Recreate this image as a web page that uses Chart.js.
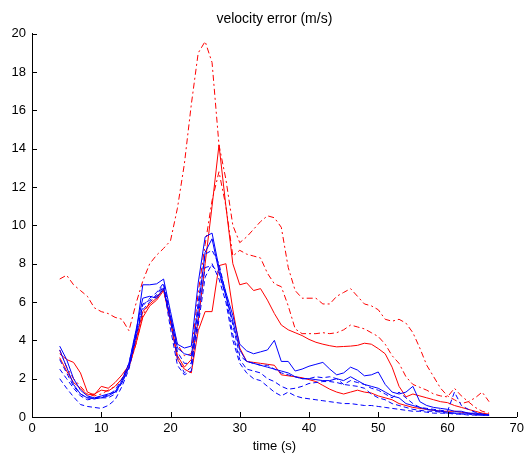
<!DOCTYPE html>
<html>
<head>
<meta charset="utf-8">
<script src="https://cdn.jsdelivr.net/npm/chart.js@4/dist/chart.umd.min.js"></script>
<style>
html,body{margin:0;padding:0;background:#fff;}
#wrap{width:528px;height:461px;}
</style>
</head>
<body>
<div id="wrap"><canvas id="c" width="528" height="461"></canvas></div>
<script>
// time samples (s)
const times = [4,5,6,7,8,9,10,11,12,13,14,15,16,17,18,19,20,21,22,23,24,25,26,27,28,29,30,31,32,33,34,35,36,37,38,39,40,41,42,43,44,45,46,47,48,49,50,51,52,53,54,55,56,57,58,59,60,61,62,63,64,65,66];

// red dash-dot series
const redDashA = [7.2,7.4,6.9,6.6,6.3,5.7,5.5,5.4,5.2,5.1,4.5,5.9,7.1,8.0,8.45,8.8,9.2,10.9,13.2,16.3,19.0,19.6,18.5,14.2,12.4,10.0,9.1,9.4,9.8,10.2,10.5,10.4,9.9,7.8,6.6,6.2,6.2,6.2,5.9,5.9,6.3,6.5,6.7,6.3,5.9,5.8,5.6,5.1,5.0,5.1,4.9,4.4,3.6,2.7,2.1,1.5,1.1,0.9,0.7,0.8,1.0,1.3,0.8];
const redDashB = [3.5,2.6,2.0,1.6,1.2,1.1,1.2,1.4,1.6,2.0,2.6,3.8,5.3,6.0,6.3,6.6,5.2,3.8,3.2,3.3,6.5,9.0,11.3,12.8,11.0,8.4,8.7,8.5,8.4,8.3,7.5,6.95,6.8,5.8,4.6,4.35,4.35,4.35,4.4,4.35,4.4,4.55,4.8,4.7,4.6,4.4,4.2,3.8,3.2,2.8,2.1,1.7,1.55,1.4,1.2,1.1,1.05,1.5,1.1,0.8,0.5,0.3,0.2];
// red solid series
const redSolidC = [3.3,3.0,2.85,2.3,1.3,1.15,1.6,1.5,1.8,2.2,2.7,4.0,5.5,5.9,6.2,6.7,5.0,3.2,2.6,3.0,5.0,8.0,11.0,14.2,11.0,8.0,6.9,7.0,6.6,6.7,6.1,5.4,4.8,4.55,4.4,4.25,4.05,3.9,3.8,3.72,3.66,3.68,3.7,3.74,3.85,3.8,3.57,3.3,2.6,1.6,1.05,1.2,1.1,1.0,0.9,0.8,0.75,0.6,0.5,0.4,0.3,0.2,0.15];
const redSolidD = [3.1,2.4,1.8,1.5,1.15,1.2,1.4,1.35,1.6,2.0,2.6,3.8,5.2,5.8,6.1,6.6,5.0,3.0,2.5,2.3,4.5,5.5,5.5,7.9,8.0,5.6,3.6,2.9,2.85,2.8,2.75,2.7,2.2,2.15,2.1,2.05,1.95,1.85,1.65,1.45,1.3,1.2,1.3,1.4,1.3,1.25,1.1,1.0,0.9,0.7,0.6,0.5,0.45,0.4,0.35,0.3,0.3,0.3,0.25,0.2,0.15,0.15,0.1];
// blue solid series
const blueSolidE = [3.7,3.0,2.0,1.4,1.1,1.0,1.1,1.2,1.3,1.8,2.6,4.3,6.9,6.9,6.95,7.2,5.5,3.8,3.6,3.7,7.0,9.4,9.6,7.8,6.5,5.3,3.8,3.45,3.3,3.4,3.5,4.0,2.9,2.9,2.4,2.5,2.65,2.75,2.85,2.5,2.2,2.3,2.6,2.45,2.15,2.2,2.35,1.7,1.3,1.2,1.3,1.6,0.8,0.6,0.5,0.45,0.4,0.3,0.3,0.2,0.2,0.15,0.1];
const blueSolidF = [3.5,2.6,1.7,1.2,1.0,0.95,1.0,1.1,1.3,1.9,2.8,4.5,6.2,6.3,6.2,6.7,5.2,3.6,3.3,3.2,5.6,8.6,9.3,7.6,6.3,5.0,3.5,2.9,2.8,2.7,2.6,2.5,2.4,2.3,2.1,2.0,2.0,1.95,1.9,1.9,2.0,1.9,2.1,1.9,1.7,1.6,1.5,1.3,1.1,1.0,0.7,0.6,0.5,0.4,0.35,0.3,0.25,0.2,0.2,0.2,0.15,0.1,0.1];
// blue dashed series
const blueDashG = [2.5,2.0,1.5,1.1,0.9,0.95,1.0,1.0,1.2,1.8,2.6,4.2,5.6,6.0,6.4,6.9,5.0,3.1,2.3,2.6,5.2,7.8,7.9,7.5,6.3,4.3,3.0,2.5,2.4,2.3,2.0,1.85,1.6,1.45,1.5,1.6,1.75,1.8,1.85,1.85,1.8,1.7,1.65,1.6,1.5,1.2,1.0,0.9,0.7,0.6,0.5,0.4,0.35,0.3,0.3,0.25,0.2,0.2,0.15,0.15,0.1,0.1,0.1];
const blueDashH = [3.0,2.3,1.6,1.2,1.0,1.0,1.05,1.15,1.4,2.0,2.8,4.4,5.8,6.2,6.5,7.0,5.3,3.4,2.8,2.8,6.0,8.5,8.7,8.0,6.4,4.8,3.2,2.9,2.8,2.7,2.7,2.5,2.3,2.2,2.1,2.0,2.0,2.1,2.05,2.1,2.0,1.7,1.9,1.8,1.7,1.5,1.4,1.2,1.0,1.3,1.0,0.7,0.5,0.45,0.4,0.35,0.3,1.3,0.6,0.4,0.25,0.15,0.1];
const blueDashI = [2.0,1.5,1.05,0.65,0.55,0.5,0.45,0.6,0.9,1.6,2.5,4.1,5.9,6.1,6.3,6.8,4.6,2.7,2.2,2.4,4.8,7.3,8.0,7.2,6.0,4.0,2.8,2.3,2.0,1.9,1.6,1.3,1.1,1.3,1.1,1.0,0.95,0.9,0.85,0.8,0.75,0.7,0.7,0.65,0.6,0.6,0.55,0.5,0.45,0.4,0.35,0.3,0.3,0.25,0.2,0.2,0.2,0.15,0.15,0.1,0.1,0.1,0.1];

const xTicks = [0,10,20,30,40,50,60,70];
const yTicks = [0,2,4,6,8,10,12,14,16,18,20];

const RED = '#ff0000', BLUE = '#0000ff';
const DASHDOT = [6,3,2,3], DASHED = [5,3];

function series(vals, color, dash){
  return {
    data: times.map((t,i)=>({x:t, y:vals[i]})),
    borderColor: color, borderWidth: 1, borderDash: dash,
    pointRadius: 0, fill: false, tension: 0
  };
}

const datasets = [
  series(blueDashI, BLUE, DASHED),
  series(blueDashG, BLUE, DASHED),
  series(blueDashH, BLUE, DASHED),
  series(blueSolidF, BLUE, []),
  series(blueSolidE, BLUE, []),
  series(redSolidD, RED, []),
  series(redSolidC, RED, []),
  series(redDashB, RED, DASHDOT),
  series(redDashA, RED, DASHDOT)
];

const inwardTicks = {
  id: 'inwardTicks',
  afterDraw(chart){
    const ctx = chart.ctx, xs = chart.scales.x, ys = chart.scales.y;
    const a = chart.chartArea;
    ctx.save();
    ctx.strokeStyle = '#000'; ctx.lineWidth = 1;
    ctx.beginPath();
    xTicks.forEach(v=>{ const p = Math.round(xs.getPixelForValue(v))+0.5; ctx.moveTo(p, a.bottom); ctx.lineTo(p, a.bottom-5); });
    yTicks.forEach(v=>{ const p = Math.round(ys.getPixelForValue(v))+0.5; ctx.moveTo(a.left, p); ctx.lineTo(a.left+5, p); });
    ctx.stroke();
    ctx.restore();
  }
};

const FONT = "'Liberation Sans', Arial, Helvetica, sans-serif";
new Chart(document.getElementById('c'), {
  type: 'line',
  data: { datasets },
  options: {
    responsive: false, animation: false,
    layout: { padding: { left: 0, right: 10, top: 0, bottom: 0 } },
    plugins: {
      legend: { display: false }, tooltip: { enabled: false },
      title: { display: true, text: 'velocity error (m/s)', fullSize: false, color: '#000',
        font: { family: FONT, size: 14, weight: 'normal' }, padding: { top: 11, bottom: 6 } }
    },
    scales: {
      x: { type: 'linear', min: 0, max: 70,
        afterBuildTicks(s){ s.ticks = xTicks.map(v=>({value:v})); },
        afterFit(s){ s.height = 44; },
        ticks: { color: '#000', font: { family: FONT, size: 13 }, padding: 4, maxRotation: 0 },
        grid: { display: true, drawOnChartArea: false, drawTicks: false },
        border: { display: true, color: '#000', width: 1 },
        title: { display: true, text: 'time (s)', color: '#000', font: { family: FONT, size: 13 }, padding: { top: 0, bottom: 7 } }
      },
      y: { type: 'linear', min: 0, max: 20,
        afterBuildTicks(s){ s.ticks = yTicks.map(v=>({value:v})); },
        afterFit(s){ s.width = 32; },
        ticks: { color: '#000', font: { family: FONT, size: 13 }, padding: 6 },
        grid: { display: true, drawOnChartArea: false, drawTicks: false },
        border: { display: true, color: '#000', width: 1 }
      }
    }
  },
  plugins: [inwardTicks]
});
</script>
</body>
</html>
